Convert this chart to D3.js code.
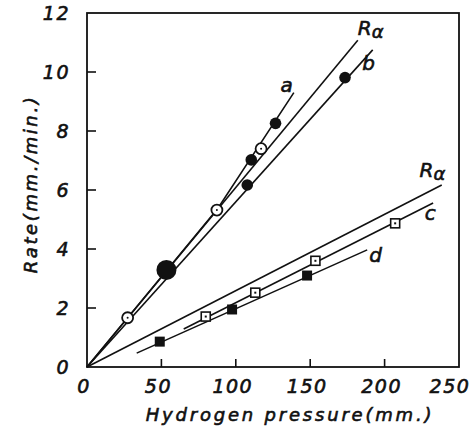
<!DOCTYPE html>
<html lang="en">
<head>
<meta charset="UTF-8">
<title>Rate vs hydrogen pressure</title>
<style>
  body { margin: 0; background: #fff; }
  text { font-family: "DejaVu Sans", sans-serif; font-style: italic; fill: #111; stroke: #111; stroke-width: 0.6px; }
</style>
</head>
<body>
<svg id="chart" width="470" height="428"></svg>
<script src="https://d3js.org/d3.v7.min.js"></script>
<script>
// points (pressure mm, rate mm/min)
var openCircles = [[27.3, 1.67], [87.3, 5.32], [117, 7.4]];
var filledCircles = [[107.7, 6.17], [110.4, 7.02], [126.7, 8.26], [173.4, 9.81]];
var bigCircle = [[53.4, 3.29]];
var openSquares = [[79.8, 1.71], [113.1, 2.52], [153.5, 3.6], [207.1, 4.87]];
var filledSquares = [[48.9, 0.86], [97.5, 1.95], [147.9, 3.1]];

// fitted lines, as end points
var lineA = [[0, 0], [88, 5.38], [139, 9.3]];
var lineRa1 = [[0, 0], [182, 11.08]];
var lineB = [[0, 0], [192, 10.75]];
var lineRa2 = [[0, 0], [238.4, 6.17]];
var lineC = [[65, 1.29], [232.6, 5.56]];
var lineD = [[33.4, 0.47], [188.3, 3.97]];

var xTicks = [0, 50, 100, 150, 200, 250];
var yTicks = [0, 2, 4, 6, 8, 10, 12];

var svg = d3.select("#chart");
var x = d3.scaleLinear().domain([0, 250]).range([87, 459]);
var y = d3.scaleLinear().domain([0, 12]).range([367, 13]);

// frame
svg.append("rect")
  .attr("x", x(0)).attr("y", y(12))
  .attr("width", x(250) - x(0)).attr("height", y(0) - y(12))
  .attr("fill", "none").attr("stroke", "#111").attr("stroke-width", 1.8);

// inward ticks
svg.selectAll(".yt").data(yTicks.slice(1, -1)).enter().append("line")
  .attr("x1", x(0)).attr("x2", x(0) + 9)
  .attr("y1", d => y(d)).attr("y2", d => y(d))
  .attr("stroke", "#111").attr("stroke-width", 1.6);
svg.selectAll(".xt").data(xTicks.slice(1, -1)).enter().append("line")
  .attr("x1", d => x(d)).attr("x2", d => x(d))
  .attr("y1", y(0)).attr("y2", y(0) - 8)
  .attr("stroke", "#111").attr("stroke-width", 1.6);

// tick labels
svg.selectAll(".yl").data(yTicks).enter().append("text")
  .attr("x", 70).attr("y", d => y(d) + 7)
  .attr("text-anchor", "end").attr("font-size", 19).attr("letter-spacing", 1.5)
  .text(d => d);
svg.selectAll(".xl").data(xTicks).enter().append("text")
  .attr("x", d => Math.min(x(d) - 3, 450)).attr("y", 393)
  .attr("text-anchor", "middle").attr("font-size", 19).attr("letter-spacing", 1.5)
  .text(d => d);

// axis titles
svg.append("text")
  .attr("x", 290).attr("y", 421)
  .attr("text-anchor", "middle").attr("font-size", 18).attr("letter-spacing", 2.8)
  .text("Hydrogen pressure(mm.)");
svg.append("text")
  .attr("transform", "translate(37,184) rotate(-90)")
  .attr("text-anchor", "middle").attr("font-size", 18).attr("letter-spacing", 2.6)
  .text("Rate(mm./min.)");

// lines
var line = d3.line().x(d => x(d[0])).y(d => y(d[1]));
[lineA, lineRa1, lineB, lineRa2, lineC, lineD].forEach(function (pts) {
  svg.append("path").attr("d", line(pts))
    .attr("fill", "none").attr("stroke", "#111").attr("stroke-width", 1.6);
});

// line labels
function label(px, py, main, sub) {
  var t = svg.append("text").attr("x", x(px)).attr("y", y(py)).attr("font-size", 20);
  t.append("tspan").text(main);
  if (sub) t.append("tspan").attr("dy", 3).attr("font-size", 18).text(sub);
}
label(182, 11.25, "R", "α");
label(185, 10.07, "b");
label(130, 9.33, "a");
label(223.5, 6.44, "R", "α");
label(227, 4.98, "c");
label(189.7, 3.56, "d");

// markers
svg.selectAll(".oc").data(openCircles).enter().append("circle")
  .attr("cx", d => x(d[0])).attr("cy", d => y(d[1])).attr("r", 5.5)
  .attr("fill", "#fff").attr("stroke", "#111").attr("stroke-width", 1.8);
svg.selectAll(".ocd").data(openCircles).enter().append("circle")
  .attr("cx", d => x(d[0])).attr("cy", d => y(d[1])).attr("r", 1)
  .attr("fill", "#111");
svg.selectAll(".fc").data(filledCircles).enter().append("circle")
  .attr("cx", d => x(d[0])).attr("cy", d => y(d[1])).attr("r", 5.8)
  .attr("fill", "#111");
svg.selectAll(".bc").data(bigCircle).enter().append("circle")
  .attr("cx", d => x(d[0])).attr("cy", d => y(d[1])).attr("r", 10)
  .attr("fill", "#111");
svg.selectAll(".os").data(openSquares).enter().append("rect")
  .attr("x", d => x(d[0]) - 4.5).attr("y", d => y(d[1]) - 4.5)
  .attr("width", 9).attr("height", 9)
  .attr("fill", "#fff").attr("stroke", "#111").attr("stroke-width", 1.6);
svg.selectAll(".osd").data(openSquares).enter().append("rect")
  .attr("x", d => x(d[0]) - 1).attr("y", d => y(d[1]) - 1)
  .attr("width", 2).attr("height", 2).attr("fill", "#111");
svg.selectAll(".fs").data(filledSquares).enter().append("rect")
  .attr("x", d => x(d[0]) - 5).attr("y", d => y(d[1]) - 5)
  .attr("width", 10).attr("height", 10).attr("fill", "#111");
</script>
</body>
</html>
